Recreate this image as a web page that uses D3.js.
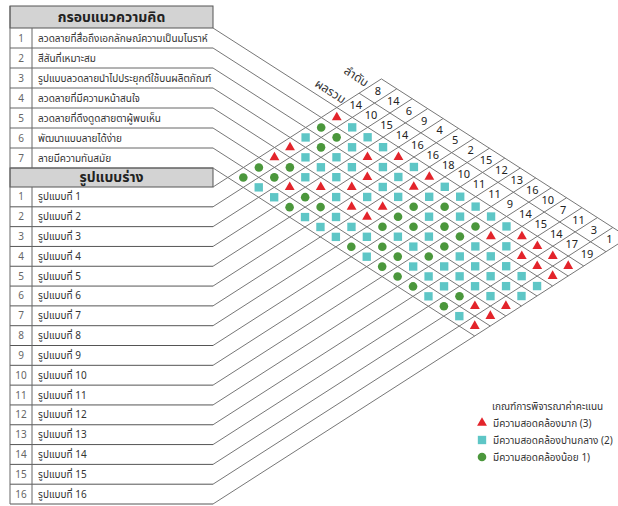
<!DOCTYPE html>
<html><head><meta charset="utf-8">
<script src="https://cdn.jsdelivr.net/npm/d3@7"></script>
<style>
body{margin:0;background:#fff}
svg{display:block}
text{font-family:"Noto Sans Thai","Noto Sans","DejaVu Sans",sans-serif}
</style>
</head><body>
<svg id="c" width="618" height="506"></svg>
<script>
// ---------------- data ----------------
const headerCriteria = "กรอบแนวความคิด";
const headerDesigns = "รูปแบบร่าง";
const criteria = [
  "ลวดลายที่สื่อถึงเอกลักษณ์ความเป็นมโนราห์",
  "สีสันที่เหมาะสม",
  "รูปแบบลวดลายนำไปประยุกต์ใช้บนผลิตภัณฑ์",
  "ลวดลายที่มีความหน้าสนใจ",
  "ลวดลายที่ดึงดูดสายตาผู้พบเห็น",
  "พัฒนาแบบลายได้ง่าย",
  "ลายมีความทันสมัย"
];
const designs = [
  "รูปแบบที่ 1","รูปแบบที่ 2","รูปแบบที่ 3","รูปแบบที่ 4",
  "รูปแบบที่ 5","รูปแบบที่ 6","รูปแบบที่ 7","รูปแบบที่ 8",
  "รูปแบบที่ 9","รูปแบบที่ 10","รูปแบบที่ 11","รูปแบบที่ 12",
  "รูปแบบที่ 13","รูปแบบที่ 14","รูปแบบที่ 15","รูปแบบที่ 16"
];
// score of each design (row) for criteria 1..7 (3 = strong, 2 = medium, 1 = weak)
const scores = [
  [3,1,2,3,3,1,1],
  [2,1,1,2,1,1,2],
  [2,2,2,2,2,3,2],
  [2,3,2,2,3,1,1],
  [3,2,3,3,2,1,2],
  [2,2,2,2,3,2,2],
  [3,3,2,3,3,2,2],
  [2,2,1,1,1,2,1],
  [2,1,2,1,2,1,2],
  [2,2,1,2,2,1,1],
  [2,1,1,1,1,2,1],
  [2,3,2,2,2,2,1],
  [3,2,2,2,2,2,2],
  [3,3,2,2,2,1,1],
  [3,3,2,2,2,3,2],
  [3,3,2,2,3,3,3]
];
const sums  = [14,10,15,14,16,16,18,10,11,11,9,14,15,14,17,19];
const ranks = [8,14,6,9,4,5,2,15,12,13,16,10,7,11,3,1];
const sumLabel = "ผลรวม";
const rankLabel = "ลำดับ";
const legendTitle = "เกณฑ์การพิจารณาค่าคะแนน";
const legendScores = [3,2,1];
const legendLabels = ["มีความสอดคล้องมาก (3)","มีความสอดคล้องปานกลาง (2)","มีความสอดคล้องน้อย 1)"];

// ---------------- layout ----------------
const svg = d3.select("#c");
const X0 = 213, XL = 10, XN = 32;
const S = 0.642;                 // slope of the diagonal grid
const EXT = 1.43;                // length factor of the sum / rank cells
const yCrit = d3.scaleLinear().domain([0, criteria.length]).range([168, 28]);
const yDes  = d3.scaleLinear().domain([0, designs.length]).range([187, 504]);
const mSum0 = criteria.length, mSum1 = mSum0 + EXT, mRank1 = mSum0 + 2*EXT;
function pt(m, t){ const yc = yCrit(m), yd = yDes(t); return [X0 + (yd-yc)/(2*S), (yc+yd)/2]; }

const gridColor = "#777";
const shape = d3.scaleOrdinal().domain([3,2,1]).range([d3.symbolTriangle, d3.symbolSquare, d3.symbolCircle]);
const color = d3.scaleOrdinal().domain([3,2,1]).range(["#e3242b","#5ec6c6","#4b973c"]);
const size  = d3.scaleOrdinal().domain([3,2,1]).range([42, 70, 58]);

// ---------------- table ----------------
const gT = svg.append("g");
function headerBox(y0, y1, label){
  gT.append("rect").attr("x", XL).attr("y", y0).attr("width", X0-XL).attr("height", y1-y0)
    .attr("fill","#d3d3d3").attr("stroke","#555").attr("stroke-width",1);
  gT.append("text").attr("x",(XL+X0)/2).attr("y",(y0+y1)/2).attr("dy","0.35em")
    .attr("text-anchor","middle").attr("font-size",14).attr("font-weight","bold").attr("fill","#222").text(label);
}
headerBox(6, yCrit(criteria.length), headerCriteria);
headerBox(yCrit(0), yDes(0), headerDesigns);

criteria.forEach((c,i)=>{
  const y0 = yCrit(criteria.length - i), y1 = yCrit(criteria.length - i - 1);
  gT.append("line").attr("x1",XL).attr("x2",X0).attr("y1",y1).attr("y2",y1).attr("stroke","#666");
  gT.append("text").attr("x",(XL+XN)/2).attr("y",(y0+y1)/2).attr("dy","0.35em").attr("text-anchor","middle")
    .attr("font-size",10).attr("fill","#666").text(i+1);
  gT.append("text").attr("x",38).attr("y",(y0+y1)/2).attr("dy","0.35em")
    .attr("font-size",10).attr("fill","#333").text(c);
});
designs.forEach((d,i)=>{
  const y0 = yDes(i), y1 = yDes(i+1);
  gT.append("line").attr("x1",XL).attr("x2",X0).attr("y1",y1).attr("y2",y1).attr("stroke","#555");
  gT.append("text").attr("x",(XL+XN)/2).attr("y",(y0+y1)/2).attr("dy","0.35em").attr("text-anchor","middle")
    .attr("font-size",10).attr("fill","#666").text(i+1);
  gT.append("text").attr("x",38).attr("y",(y0+y1)/2).attr("dy","0.35em")
    .attr("font-size",10).attr("fill","#333").text(d);
});
gT.append("line").attr("x1",XL).attr("x2",XL).attr("y1",6).attr("y2",yDes(designs.length)).attr("stroke","#666");
[[yCrit(criteria.length), yCrit(0)],[yDes(0), yDes(designs.length)]].forEach(([a,b])=>{
  gT.append("line").attr("x1",XN).attr("x2",XN).attr("y1",a).attr("y2",b).attr("stroke","#666");
});

// ---------------- diagonal grid ----------------
const gG = svg.append("g").attr("stroke",gridColor).attr("stroke-width",1).attr("fill","none");
d3.range(0, criteria.length+1).forEach(m=>{
  const p = pt(m, designs.length);
  gG.append("line").attr("x1",X0).attr("y1",yCrit(m)).attr("x2",p[0]).attr("y2",p[1]);
});
[mSum1, mRank1].forEach(m=>{
  const a = pt(m,0), b = pt(m,designs.length);
  gG.append("line").attr("x1",a[0]).attr("y1",a[1]).attr("x2",b[0]).attr("y2",b[1]);
});
d3.range(0, designs.length+1).forEach(t=>{
  const p = pt(mRank1, t);
  gG.append("line").attr("x1",X0).attr("y1",yDes(t)).attr("x2",p[0]).attr("y2",p[1]);
});

// ---------------- markers ----------------
const cells = [];
scores.forEach((row,k)=>row.forEach((v,c)=>cells.push({k, c, v})));
svg.append("g").selectAll("path").data(cells).join("path")
  .attr("transform", d=>{ const p = pt(criteria.length - d.c - 0.5, d.k + 0.5); return `translate(${p[0]},${p[1]})`; })
  .attr("d", d=>d3.symbol().type(shape(d.v)).size(size(d.v))())
  .attr("fill", d=>color(d.v));

// ---------------- sums & ranks ----------------
const gN = svg.append("g").attr("font-size",11).attr("fill","#222").attr("text-anchor","middle");
sums.forEach((s,k)=>{
  const p = pt((mSum0+mSum1)/2, k+0.5);
  gN.append("text").attr("x",p[0]).attr("y",p[1]).attr("dy","0.35em").text(s);
});
ranks.forEach((r,k)=>{
  const p = pt((mSum1+mRank1)/2, k+0.5);
  gN.append("text").attr("x",p[0]).attr("y",p[1]).attr("dy","0.35em").text(r);
});
const ang = Math.atan(S)*180/Math.PI;
[[sumLabel,(mSum0+mSum1)/2,-0.15,"0.5em"],[rankLabel,(mSum1+mRank1)/2,-0.2,"0.3em"]].forEach(([lab,m,t,dy])=>{
  const p = pt(m,t);
  svg.append("text").attr("transform",`translate(${p[0]},${p[1]}) rotate(${ang})`)
    .attr("text-anchor","end").attr("dy",dy).attr("font-size",12).attr("fill","#333").text(lab);
});

// ---------------- legend ----------------
const gL = svg.append("g");
gL.append("text").attr("x",492).attr("y",406).attr("dy","0.35em").attr("font-size",10).attr("fill","#333").text(legendTitle);
legendScores.forEach((v,i)=>{
  const y = 423 + i*17;
  gL.append("path").attr("transform",`translate(482,${y})`).attr("d",d3.symbol().type(shape(v)).size(size(v))()).attr("fill",color(v));
  gL.append("text").attr("x",493).attr("y",y).attr("dy","0.35em").attr("font-size",10).attr("fill","#333").text(legendLabels[i]);
});
</script>
</body></html>
